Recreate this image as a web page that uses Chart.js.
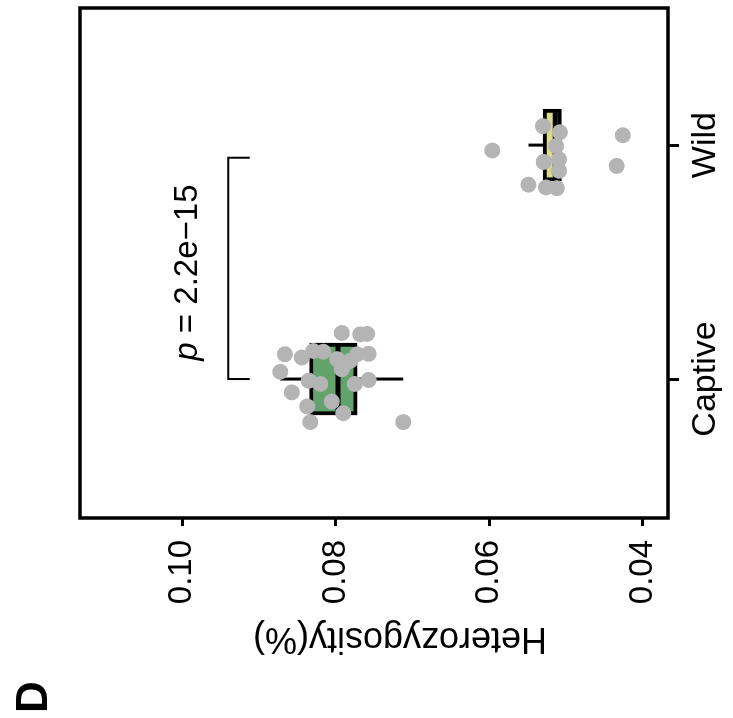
<!DOCTYPE html>
<html>
<head>
<meta charset="utf-8">
<script src="https://cdn.jsdelivr.net/npm/chart.js@4.4.1/dist/chart.umd.min.js"></script>
<style>
  html, body { margin: 0; padding: 0; background: #fff; overflow: hidden; }
  /* the panel is laid out upright, then turned a quarter turn to the left */
  #wrap {
    position: absolute; left: 0; top: 0;
    width: 718px; height: 733px;
    transform-origin: 0 0;
    transform: translate(0px, 718px) rotate(-90deg);
  }
</style>
</head>
<body>
<div id="wrap"><canvas id="het" width="718" height="733"></canvas></div>
<script>
document.addEventListener('DOMContentLoaded', () => {

    // --- data ---
    const categories = ['Captive', 'Wild'];
    const catPos = [1, 2];
    const yTicks = [0.04, 0.06, 0.08, 0.10];
    const yTickLabels = ['0.04', '0.06', '0.08', '0.10'];
    const yTitle = 'Heterozygosity(%)';
    const panelLetter = 'D';

    const boxQ1 = [0.0772, 0.0506];
    const boxQ3 = [0.0834, 0.0530];
    const boxMedian = [0.0797, 0.0514];
    const whiskerLow = [0.0712, 0.0506];
    const whiskerHigh = [0.0872, 0.0549];

    // jittered positions (in group units) and values of each sample
    const captiveX = [1.197, 1.191, 1.193, 1.106, 1.092, 1.120, 1.117, 1.085, 1.056, 1.106, 1.108, 1.078,
                      1.042, 1.031, 0.993, 0.979, 0.979, 0.996, 0.943, 0.883, 0.904, 0.854, 0.816, 0.816];
    const captiveY = [0.0792, 0.0768, 0.0759, 0.0866, 0.0844, 0.0829, 0.0816, 0.0798, 0.0790, 0.0772, 0.0757, 0.0781,
                      0.0792, 0.0872, 0.0835, 0.0820, 0.0775, 0.0757, 0.0857, 0.0837, 0.0805, 0.0790, 0.0833, 0.0712];
    const wildX = [2.055, 1.996, 1.939, 1.890, 2.081, 1.928, 1.831, 1.819, 1.816, 1.977, 2.042, 1.911];
    const wildY = [0.0508, 0.0513, 0.0509, 0.0509, 0.0530, 0.0529, 0.0549, 0.0526, 0.0512, 0.0596, 0.0426, 0.0434];

    const pLabel = ' = 2.2e\u221215';
    const bracketFrom = 1.0;
    const bracketTo = 1.946;
    const bracketTop = 0.0940;
    const bracketFoot = 0.0912;
    const pLabelX = 1.455;
    const pLabelY = 0.0980;

    // --- styling ---
    const FONT = "'Liberation Sans', Arial, Helvetica, sans-serif";
    const boxFill = ['#62a36c', '#dadc8c'];
    const dotColor = '#b4b4b4';
    const halfBox = 0.15;

    Chart.defaults.font.family = FONT;

    const seg = (pts, width, order) => ({
        type: 'line',
        data: pts,
        borderColor: '#000',
        borderWidth: width,
        borderCapStyle: 'butt',
        pointRadius: 0,
        fill: false,
        tension: 0,
        order: order
    });

    const datasets = [];

    datasets.push({
        type: 'bar',
        data: catPos.map((c, i) => ({ x: c, y: [boxQ1[i], boxQ3[i]] })),
        backgroundColor: boxFill,
        borderColor: '#000',
        borderWidth: 4,
        borderSkipped: false,
        barThickness: 72,
        order: 5
    });

    catPos.forEach((c, i) => {
        datasets.push(seg([{ x: c - halfBox, y: boxMedian[i] }, { x: c + halfBox, y: boxMedian[i] }], 5, 3));
        datasets.push(seg([{ x: c, y: whiskerHigh[i] }, { x: c, y: boxQ3[i] }], 3, 4));
        datasets.push(seg([{ x: c, y: boxQ1[i] }, { x: c, y: whiskerLow[i] }], 3, 4));
    });

    // significance bracket between the two groups
    datasets.push(seg([
        { x: bracketFrom, y: bracketFoot },
        { x: bracketFrom, y: bracketTop },
        { x: bracketTo, y: bracketTop },
        { x: bracketTo, y: bracketFoot }
    ], 2, 2));

    datasets.push({
        type: 'scatter',
        data: captiveX.map((x, i) => ({ x: x, y: captiveY[i] }))
            .concat(wildX.map((x, i) => ({ x: x, y: wildY[i] }))),
        backgroundColor: dotColor,
        borderWidth: 0,
        pointRadius: 8,
        pointHoverRadius: 8,
        order: 0
    });

    // frame, axis title, panel letter and p-value
    const notes = {
        id: 'notes',
        afterDraw(chart) {
            const { ctx, chartArea: a, scales } = chart;
            ctx.save();
            ctx.strokeStyle = '#000';
            ctx.lineWidth = 3.5;
            ctx.strokeRect(a.left, a.top, a.right - a.left, a.bottom - a.top);

            ctx.fillStyle = '#000';
            ctx.textBaseline = 'alphabetic';

            ctx.save();
            ctx.font = '36px ' + FONT;
            ctx.textAlign = 'center';
            ctx.translate(90, 400);
            ctx.rotate(-Math.PI / 2);
            ctx.fillText(yTitle, 0, 0);
            ctx.restore();

            ctx.font = 'bold 44px ' + FONT;
            ctx.textAlign = 'left';
            ctx.fillText(panelLetter, 5, 47);

            const px = scales.x.getPixelForValue(pLabelX);
            const py = scales.y.getPixelForValue(pLabelY);
            ctx.font = 'italic 33px ' + FONT;
            const wP = ctx.measureText('p').width;
            ctx.font = '33px ' + FONT;
            const wRest = ctx.measureText(pLabel).width;
            const x0 = px - (wP + wRest) / 2;
            ctx.font = 'italic 33px ' + FONT;
            ctx.fillText('p', x0, py);
            ctx.font = '33px ' + FONT;
            ctx.fillText(pLabel, x0 + wP, py);
            ctx.restore();
        }
    };

    new Chart(document.getElementById('het'), {
        type: 'bar',
        data: { datasets: datasets },
        options: {
            responsive: false,
            animation: false,
            events: [],
            layout: { padding: { left: 0, right: 4, top: 80, bottom: 0 } },
            plugins: {
                legend: { display: false },
                tooltip: { enabled: false }
            },
            scales: {
                x: {
                    type: 'linear',
                    offset: false,
                    min: 0.406,
                    max: 2.586,
                    afterBuildTicks: (scale) => {
                        scale.ticks = catPos.map(v => ({ value: v }));
                    },
                    afterFit: (scale) => { scale.height = 65; },
                    grid: {
                        drawOnChartArea: false,
                        drawTicks: true,
                        tickLength: 11,
                        tickWidth: 3,
                        tickColor: '#000',
                        offset: false
                    },
                    border: { display: false },
                    ticks: {
                        autoSkip: false,
                        maxRotation: 0,
                        padding: 6,
                        color: '#000',
                        font: { size: 34 },
                        callback: (value, index) => categories[index]
                    }
                },
                y: {
                    type: 'linear',
                    min: 0.03672,
                    max: 0.11329,
                    afterBuildTicks: (scale) => {
                        scale.ticks = yTicks.map(v => ({ value: v }));
                    },
                    afterFit: (scale) => { scale.width = 200; },
                    grid: {
                        drawOnChartArea: false,
                        drawTicks: true,
                        tickLength: 8,
                        tickWidth: 3,
                        tickColor: '#000'
                    },
                    border: { display: false },
                    ticks: {
                        padding: 14,
                        color: '#000',
                        font: { size: 33 },
                        callback: (value, index) => yTickLabels[index]
                    }
                }
            }
        },
        plugins: [notes]
    });
});
</script>
</body>
</html>
